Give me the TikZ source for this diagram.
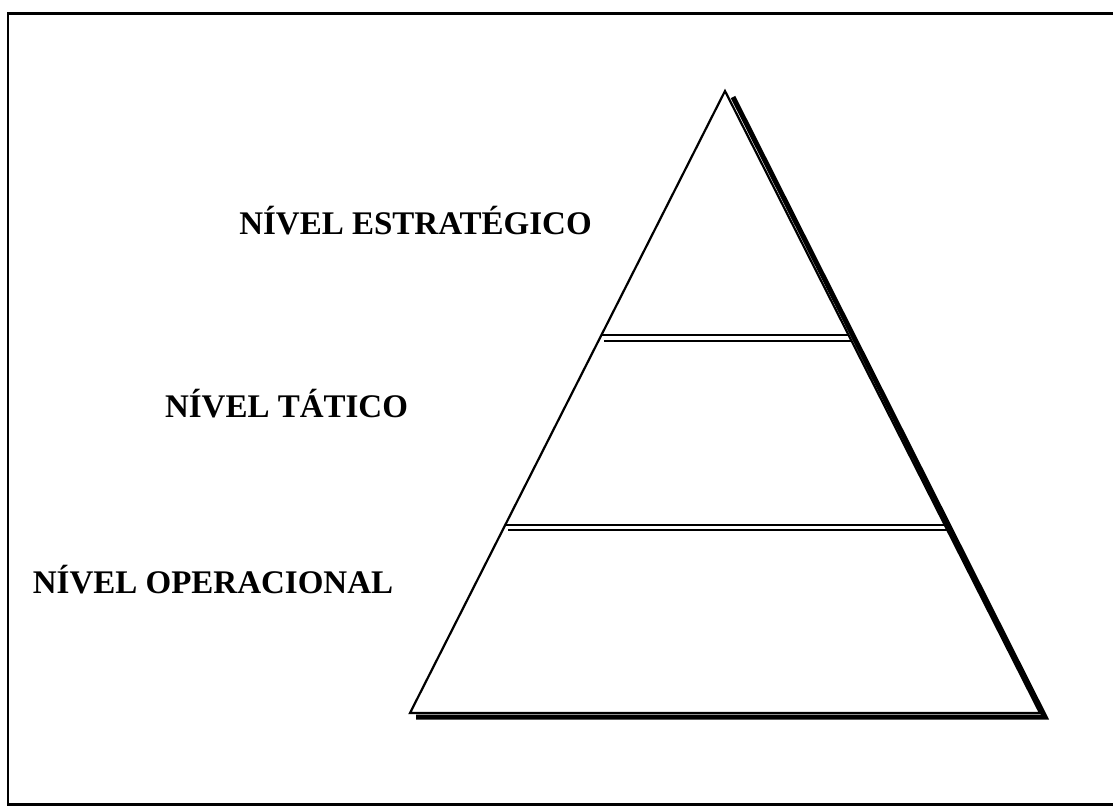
\documentclass[tikz,border=0pt]{standalone}
\usepackage{fontspec}
\setmainfont{Liberation Serif}
\usetikzlibrary{calc}
\colorlet{pyrLine}{black}
\tikzset{
  pyrframe/.style={draw=pyrLine, line width=2.6pt},
  pyredge/.style={draw=pyrLine, line width=2.2pt, fill=white, line join=miter},
  pyrshadow/.style={draw=pyrLine, line width=5pt, line join=miter},
  pyrrule/.style={draw=pyrLine, line width=2pt},
  pyrlabel/.style={font=\fontsize{33}{38}\selectfont\bfseries, text=black, inner sep=0pt}
}
\begin{document}
\begin{tikzpicture}[x=1pt,y=-1pt]
  \useasboundingbox (0,0) rectangle (1113,807);
  \draw[pyrframe] (1113,13.5) -- (8,13.5) -- (8,804.5) -- (1113,804.5);

  % pyramid corners
  \coordinate (apex) at (725,91);
  \coordinate (baseL) at (410,713);
  \coordinate (baseR) at (1040,713);

  % shadow on the right side and the base
  \draw[pyrshadow] ($(apex)+(8,6)$) -- ($(baseR)+(5,4)$) -- ($(baseL)+(6,4)$);
  \draw[pyredge] (apex) -- (baseR) -- (baseL) -- cycle;

  % level dividers
  \coordinate (upL) at ($(apex)!0.3923!(baseL)$);
  \coordinate (upR) at ($(apex)!0.3923!(baseR)$);
  \coordinate (loL) at ($(apex)!0.6977!(baseL)$);
  \coordinate (loR) at ($(apex)!0.6977!(baseR)$);
  \draw[pyrrule] (upL) -- (upR);
  \draw[pyrrule] ($(upL)+(3,5.5)$) -- ($(upR)+(2,5.5)$);
  \draw[pyrrule] (loL) -- (loR);
  \draw[pyrrule] ($(loL)+(3,5.5)$) -- ($(loR)+(2,5.5)$);

  % level names
  \node[pyrlabel] (strat) at (415.5,221) {NÍVEL ESTRATÉGICO};
  \node[pyrlabel] (tact) at (286.5,404) {NÍVEL TÁTICO};
  \node[pyrlabel] (oper) at (213,580) {NÍVEL OPERACIONAL};
\end{tikzpicture}
\end{document}
